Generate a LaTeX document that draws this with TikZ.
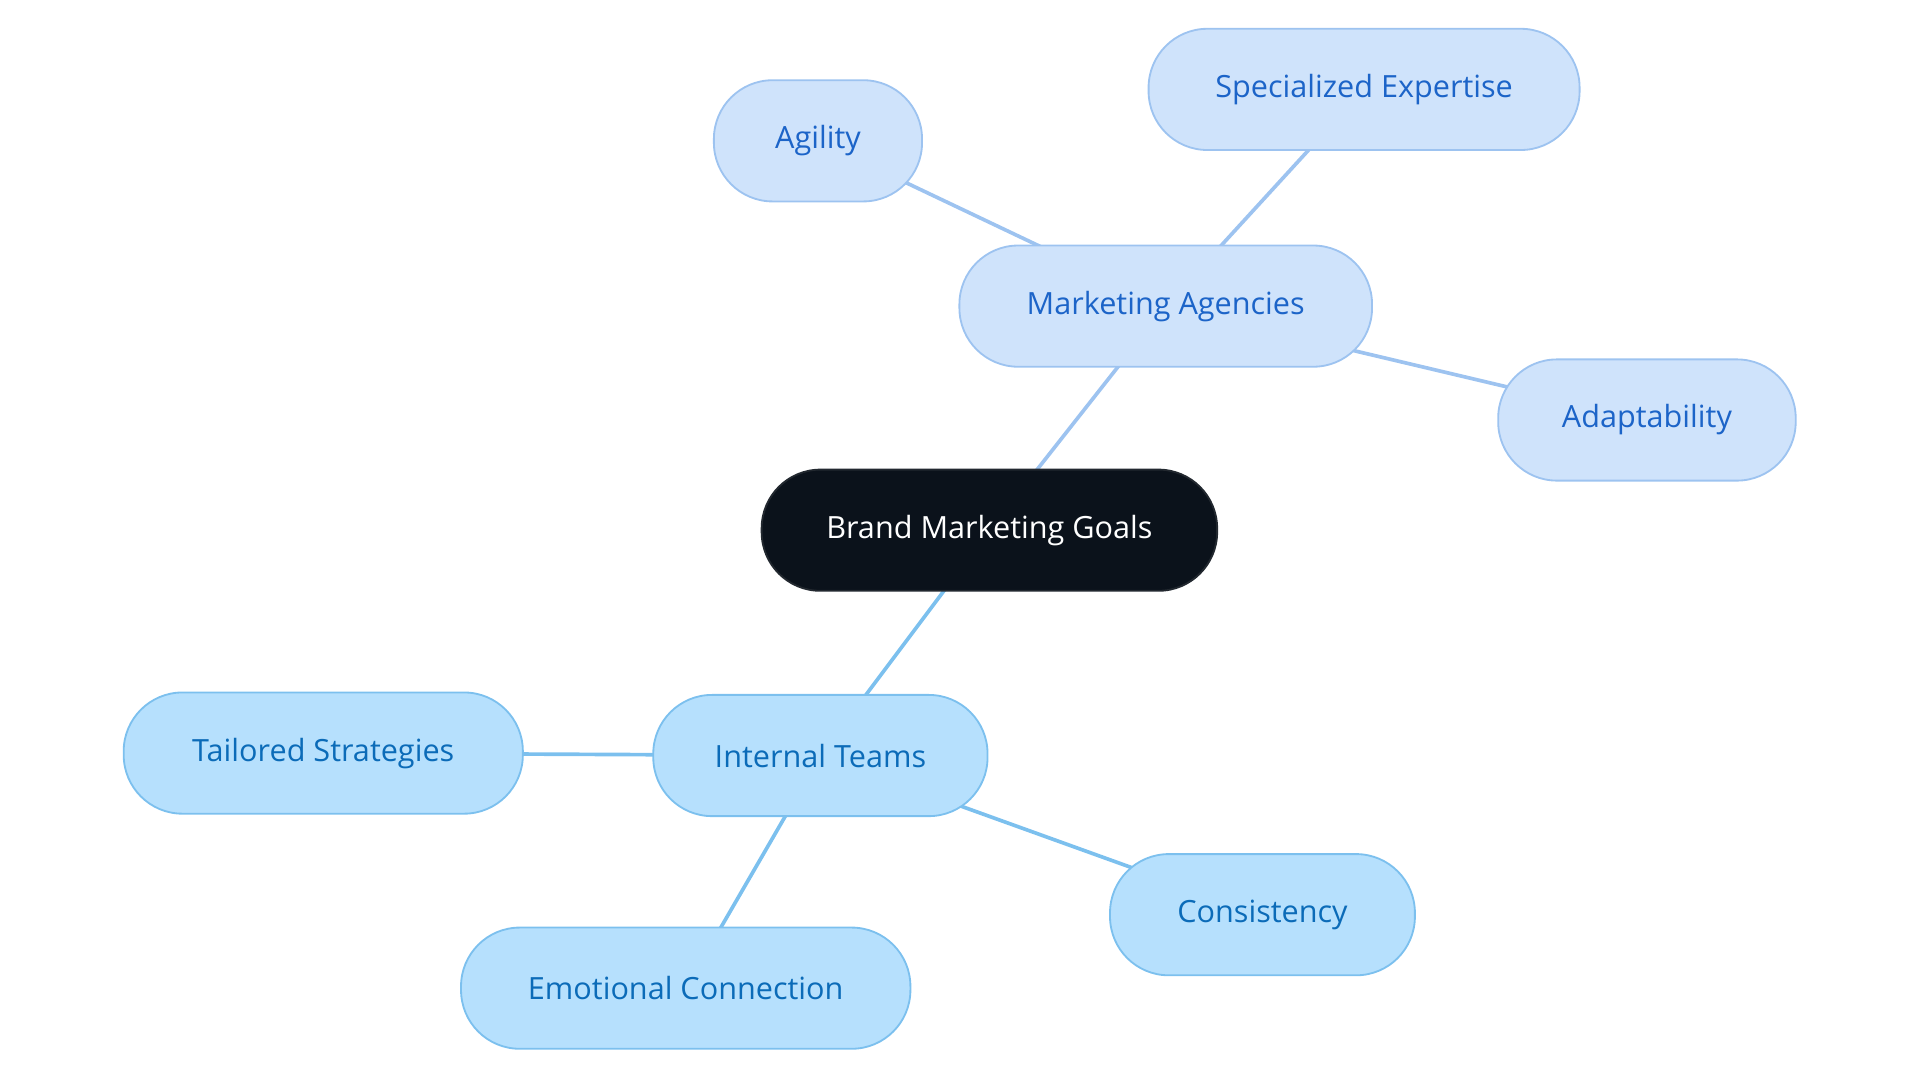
\documentclass[tikz,border=0pt]{standalone}
\usepackage{fontspec}
\setmainfont{Open Sans}
\usetikzlibrary{backgrounds}
\definecolor{rootfill}{HTML}{0B121B}
\definecolor{agfill}{HTML}{CFE3FB}
\definecolor{agline}{HTML}{9DC3F0}
\definecolor{agtext}{HTML}{1C64C8}
\definecolor{itfill}{HTML}{B6E0FD}
\definecolor{itline}{HTML}{7CC0EE}
\definecolor{ittext}{HTML}{0B6BB8}
\begin{document}
\begin{tikzpicture}[x=1pt,y=-1pt,
  pill/.style={rounded corners=48pt,minimum height=99pt,line width=1.5pt,inner sep=0pt,font=\fontsize{25}{30}\selectfont},
  root/.style={pill,fill=rootfill,draw=rootfill!80!gray,text=white},
  ag/.style={pill,fill=agfill,draw=agline,text=agtext},
  it/.style={pill,fill=itfill,draw=itline,text=ittext},
  agedge/.style={draw=agline,line width=3pt},
  itedge/.style={draw=itline,line width=3pt}]
\useasboundingbox (0,0) rectangle (1568,884);
\node[root,minimum width=372pt] (r) at (808,433) {Brand Marketing Goals};
\node[ag,minimum width=337pt] (ma) at (952,250) {Marketing Agencies};
\node[ag,minimum width=170pt] (agi) at (668,115) {Agility};
\node[ag,minimum width=352pt] (se) at (1114,73) {Specialized Expertise};
\node[ag,minimum width=243pt] (ad) at (1345,343) {Adaptability};
\node[it,minimum width=273pt] (it) at (670,617) {Internal Teams};
\node[it,minimum width=326pt] (ts) at (264,615) {Tailored Strategies};
\node[it,minimum width=249pt] (co) at (1031,747) {Consistency};
\node[it,minimum width=367pt] (ec) at (560,807) {Emotional Connection};
\begin{scope}[on background layer]
\draw[agedge] (r.center) -- (ma.center);
\draw[agedge] (ma.center) -- (agi.center);
\draw[agedge] (ma.center) -- (se.center);
\draw[agedge] (ma.center) -- (ad.center);
\draw[itedge] (r.center) -- (it.center);
\draw[itedge] (it.center) -- (ts.center);
\draw[itedge] (it.center) -- (co.center);
\draw[itedge] (it.center) -- (ec.center);
\end{scope}
\end{tikzpicture}
\end{document}
